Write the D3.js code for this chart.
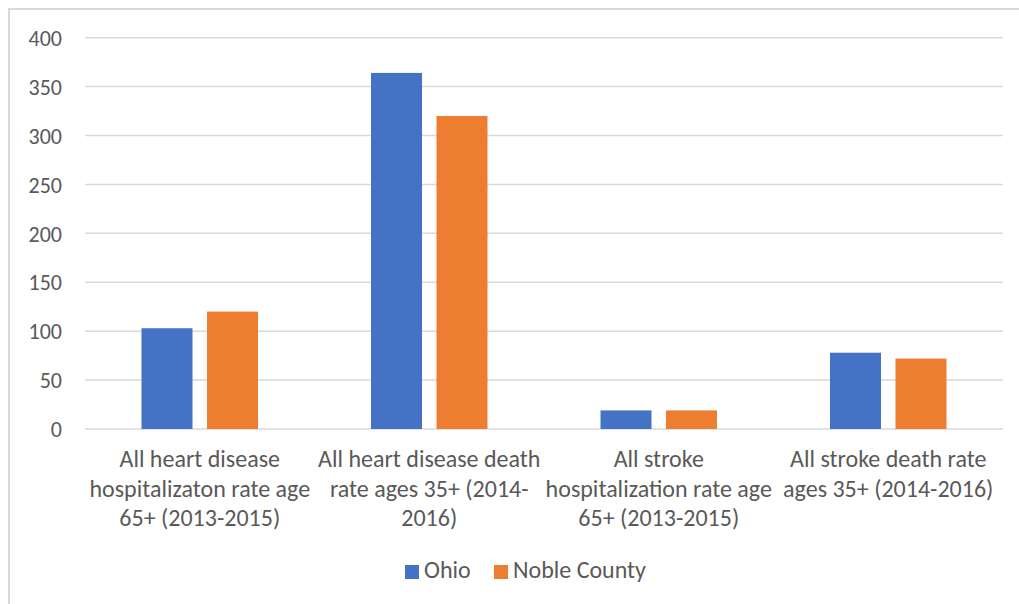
<!DOCTYPE html>
<html>
<head>
<meta charset="utf-8">
<script src="https://cdn.jsdelivr.net/npm/d3@7"></script>
<style>
  body { margin: 0; background: #fff; }
  text { font-family: Carlito, Calibri, Lato, sans-serif; fill: #595959; }
</style>
</head>
<body>
<div id="chart"></div>
<script>
// chart values
var categories = ["hd_hosp", "hd_death", "st_hosp", "st_death"];
var categoryLabels = [
  ["All heart disease", "hospitalizaton rate age", "65+ (2013-2015)"],
  ["All heart disease death", "rate ages 35+ (2014-", "2016)"],
  ["All stroke", "hospitalization rate age", "65+ (2013-2015)"],
  ["All stroke death rate", "ages 35+ (2014-2016)"]
];
var seriesNames = ["Ohio", "Noble County"];
var ohioValues = [103, 364, 19, 78];
var nobleValues = [120, 320, 19, 72];
var yTicks = [0, 50, 100, 150, 200, 250, 300, 350, 400];
var colors = ["#4472C4", "#ED7D31"];

var W = 1019, H = 604;
var plot = { left: 85, right: 1003, top: 37.7, bottom: 429 };

var svg = d3.select("#chart").append("svg").attr("width", W).attr("height", H)

// outer chart frame (runs off right/bottom of the picture)
svg.append("rect").attr("x", 9).attr("y", 9).attr("width", 1030).attr("height", 620)
  .attr("fill", "#fff").attr("stroke", "#d9d9d9").attr("stroke-width", 2)

var y = d3.scaleLinear().domain([0, 400]).range([plot.bottom, plot.top]);
var x0 = d3.scaleBand().domain(categories).range([plot.left, plot.right]).padding(0);
var x1 = d3.scaleBand().domain(seriesNames).range([0, x0.bandwidth()])
  .paddingInner(0.2214).paddingOuter(0.8627);

// gridlines
svg.append("g").selectAll("line").data(yTicks).enter().append("line")
  .attr("x1", plot.left).attr("x2", plot.right)
  .attr("y1", function(d) { return y(d); }).attr("y2", function(d) { return y(d); })
  .attr("stroke", "#d9d9d9").attr("stroke-width", 1.5)

// y axis labels
var yAxis = d3.axisLeft(y).tickValues(yTicks).tickSize(0).tickPadding(0)
var gy = svg.append("g").attr("transform", "translate(62,0)").call(yAxis)
gy.select(".domain").remove()
gy.selectAll("text").attr("font-size", 22).attr("dy", "0.35em")
  .style("font-family", "Carlito, Calibri, Lato, sans-serif").attr("fill", "#595959")

// bars
var rows = categories.map(function(c, i) {
  return { cat: c, values: [ohioValues[i], nobleValues[i]] };
});
var groups = svg.append("g").selectAll("g").data(rows).enter().append("g")
  .attr("transform", function(d) { return "translate(" + x0(d.cat) + ",0)"; })
groups.selectAll("rect").data(function(d) {
    return d.values.map(function(v, j) { return { s: seriesNames[j], v: v, j: j }; });
  }).enter().append("rect")
  .attr("x", function(d) { return x1(d.s); })
  .attr("width", x1.bandwidth())
  .attr("y", function(d) { return y(d.v); })
  .attr("height", function(d) { return y(0) - y(d.v); })
  .attr("fill", function(d) { return colors[d.j]; })

// category labels
var labels = svg.append("g").selectAll("text").data(categories).enter().append("text")
  .attr("text-anchor", "middle").attr("font-size", 24)
  .attr("transform", function(d) { return "translate(" + (x0(d) + x0.bandwidth() / 2) + ",467)"; })
labels.each(function(d, i) {
  var t = d3.select(this);
  categoryLabels[i].forEach(function(line, k) {
    t.append("tspan").attr("x", 0).attr("y", k * 29.7).text(line);
  });
});

// legend
var legendX = [405, 494];
var legend = svg.append("g").selectAll("g").data(seriesNames).enter().append("g")
  .attr("transform", function(d, i) { return "translate(" + legendX[i] + ",565)"; })
legend.append("rect").attr("width", 14).attr("height", 14)
  .attr("fill", function(d, i) { return colors[i]; })
legend.append("text").attr("x", 19).attr("y", 13).attr("font-size", 24)
  .text(function(d) { return d; })
</script>
</body>
</html>
